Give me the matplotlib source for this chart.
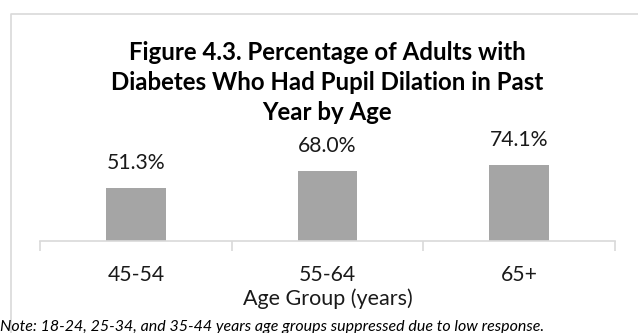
import numpy as np
import matplotlib.pyplot as plt
from matplotlib.lines import Line2D

groups = ['45-54', '55-64', '65+']
pct = [51.3, 68.0, 74.1]
labels = ['51.3%', '68.0%', '74.1%']

plt.rcParams['font.family'] = ['Lato', 'DejaVu Sans']

W, H = 638, 333
fig = plt.figure(figsize=(W / 100, H / 100), dpi=100)

# outer chart border (runs off the right and bottom edges)
fig.add_artist(Line2D([11 / W, 11 / W, 1.0], [0.0, 1 - 13.5 / H, 1 - 13.5 / H],
                      color='#d9d9d9', lw=1.2, transform=fig.transFigure))

ax = fig.add_axes([40 / W, 1 - 241 / H, (615 - 40) / W, 82.4 / H])
x = np.arange(len(groups))
ax.bar(x, pct, width=0.313, color='#a5a5a5')
for xi, v, lab in zip(x, pct, labels):
    ax.text(xi, v + 24.3, lab, ha='center', va='center', fontsize=15.2,
            color='#1a1a1a', clip_on=False)

ax.set_xlim(-0.5, 2.5)
ax.set_ylim(0, 80)
ax.set_yticks([])
for s in ['top', 'right', 'left']:
    ax.spines[s].set_visible(False)
ax.spines['bottom'].set_color('#d9d9d9')
ax.spines['bottom'].set_linewidth(1.2)
ax.set_xticks([-0.5, 0.5, 1.5, 2.5])
ax.set_xticklabels([])
ax.tick_params(axis='x', which='major', length=7, width=1.2, color='#d9d9d9', direction='out')
ax.set_xticks(x, minor=True)
ax.set_xticklabels(groups, minor=True)
ax.tick_params(axis='x', which='minor', length=0, pad=17, labelsize=15.2, labelcolor='#1a1a1a')

fig.text(327.5 / W, 1 - 299 / H, 'Age Group (years)', ha='center', va='center',
         fontsize=15.5, color='#1a1a1a')

title_lines = ['Figure 4.3. Percentage of Adults with',
               'Diabetes Who Had Pupil Dilation in Past',
               'Year by Age']
for i, line in enumerate(title_lines):
    fig.text(327.5 / W, 1 - (52 + 30 * i) / H, line, ha='center', va='center',
             fontsize=17.3, fontweight='bold', color='black')

fig.text(0 / W, 1 - 327 / H,
         'Note: 18-24, 25-34, and 35-44 years age groups suppressed due to low response.',
         ha='left', va='center', fontsize=11.5, style='italic', color='black')

fig.savefig('out.png', dpi=100)
